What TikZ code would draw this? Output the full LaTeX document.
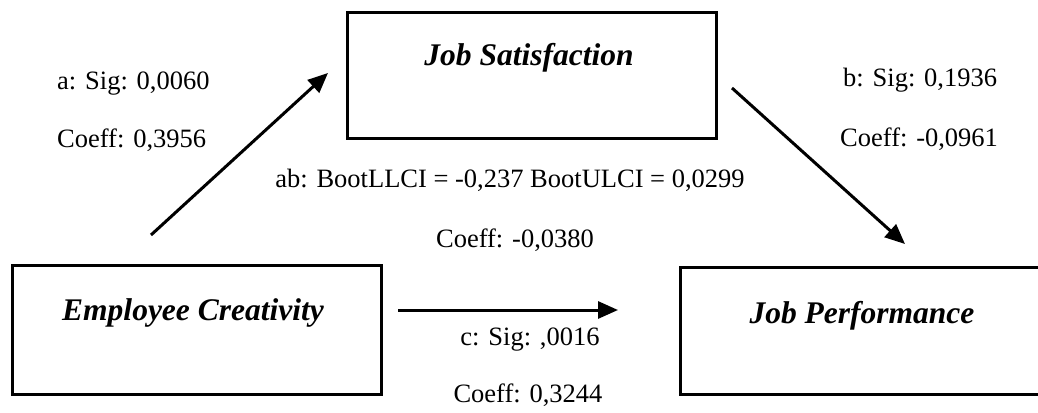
\documentclass[tikz,border=0pt]{standalone}
\usepackage{fontspec}
\setmainfont{Liberation Serif}
\usetikzlibrary{arrows.meta}
\tikzset{
  box/.style={draw, line width=3pt, rectangle, inner sep=0pt},
  title/.style={font=\fontsize{31.5}{36}\selectfont\bfseries\itshape, inner sep=0pt},
  lbl/.style={font=\fontsize{26.5}{30}\selectfont, inner sep=0pt},
  conn/.style={line width=3pt, -{Triangle[length=20pt,width=17pt]}}
}
\begin{document}
\begin{tikzpicture}[x=1pt,y=-1pt]
\clip (0,0) rectangle (1038,412);
\fill[white] (0,0) rectangle (1038,412);
% boxes
\node[box, minimum width=369pt, minimum height=125pt] (js) at (531.5,75.5) {};
\node[box, minimum width=369pt, minimum height=129pt] (ec) at (196.5,329.5) {};
\node[box, minimum width=370pt, minimum height=127pt] (jp) at (865,330.5) {};
\node[title] (jst) at (529,58) {Job Satisfaction};
\node[title] (ect) at (193,313) {Employee Creativity};
\node[title] (jpt) at (862,316) {Job Performance};
% arrow endpoints
\coordinate (a1) at (151,235);
\coordinate (a2) at (328,73);
\coordinate (b1) at (732,88);
\coordinate (b2) at (905,244);
\coordinate (c1) at (398,310);
\coordinate (c2) at (618,310);
\draw[conn] (a1) -- (a2);
\draw[conn] (b1) -- (b2);
\draw[conn] (c1) -- (c2);
% labels
\node[lbl, anchor=west] (la1) at (57,84) {a: Sig: 0,0060};
\node[lbl, anchor=west] (la2) at (57,140) {Coeff: 0,3956};
\node[lbl, anchor=west] (lb1) at (843,80) {b: Sig: 0,1936};
\node[lbl, anchor=west] (lb2) at (840,139) {Coeff: -0,0961};
\node[lbl] (lab1) at (510,180) {ab: BootLLCI = -0,237 BootULCI = 0,0299};
\node[lbl] (lab2) at (515,240) {Coeff: -0,0380};
\node[lbl] (lc1) at (530,340) {c: Sig: ,0016};
\node[lbl] (lc2) at (528,395) {Coeff: 0,3244};
\end{tikzpicture}
\end{document}
